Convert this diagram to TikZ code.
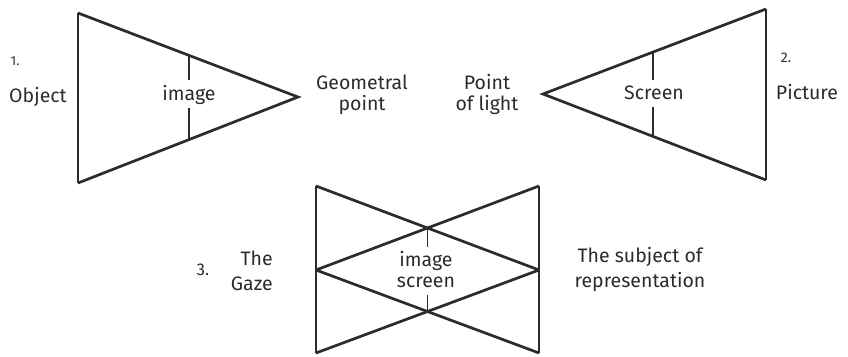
\documentclass[tikz,border=0pt]{standalone}
\usepackage{fontspec}
\setmainfont{Fira Sans}
\usetikzlibrary{positioning,calc}
\definecolor{inkgray}{HTML}{2B2B2B}

\begin{document}
\begin{tikzpicture}[x=1pt,y=-1pt,
  ray/.style={draw=inkgray, line width=2.7pt, line join=miter},
  edge/.style={draw=inkgray, line width=1.1pt},
  lbl/.style={inner sep=0pt, anchor=base, align=center, text=inkgray,
    font=\fontsize{19.5}{20.5}\selectfont},
  loose/.style={font=\fontsize{19.5}{24.5}\selectfont},
  num/.style={lbl, font=\fontsize{14}{16}\selectfont}]

  \useasboundingbox (0,0) rectangle (848,356);

  % 1. object and geometral point
  \coordinate (objTop) at (78,13);
  \coordinate (objBot) at (78,183);
  \coordinate (geoPt) at (298,97);
  \draw[edge] (objTop) -- (objBot);
  \draw[ray] (objBot) -- (geoPt) -- (objTop);
  \coordinate (imgA) at ($(objTop)!0.5045!(geoPt)$);
  \coordinate (imgB) at ($(objBot)!0.5045!(geoPt)$);
  \draw[edge] (imgA) -- (imgA |- 0,80);
  \draw[edge] (imgB) -- (imgB |- 0,108);

  \node[num, font=\fontsize{13}{15}\selectfont] (one) at (15,65) {1.};
  \node[lbl] (object) at (38,102) {Object};
  \node[lbl] (image) at (189,100) {image};
  \node[lbl] (geo) at (362,110) {Geometral\\point};

  % 2. point of light and picture
  \coordinate (picTop) at (766,9);
  \coordinate (picBot) at (766,180);
  \coordinate (lightPt) at (543,94);
  \draw[edge] (picTop) -- (picBot);
  \draw[ray] (picBot) -- (lightPt) -- (picTop);
  \coordinate (scrA) at ($(lightPt)!0.4933!(picTop)$);
  \coordinate (scrB) at ($(lightPt)!0.4933!(picBot)$);
  \draw[edge] (scrA) -- (scrA |- 0,80);
  \draw[edge] (scrB) -- (scrB |- 0,107);

  \node[lbl] (light) at (487,110) {Point\\of light};
  \node[lbl] (screen) at (654,99) {Screen};
  \node[num] (two) at (786,62) {2.};
  \node[lbl] (picture) at (807,99) {Picture};

  % 3. the gaze and the subject of representation
  \coordinate (lt) at (316,186);
  \coordinate (lm) at (316,270);
  \coordinate (lb) at (316,353);
  \coordinate (rt) at (539,186);
  \coordinate (rm) at (539,270);
  \coordinate (rb) at (539,353);
  \draw[edge] (lt) -- (lb);
  \draw[edge] (rt) -- (rb);
  \draw[ray] (lt) -- (rm);
  \draw[ray] (rt) -- (lm);
  \draw[ray] (lm) -- (rb);
  \draw[ray] (rm) -- (lb);
  \coordinate (xTop) at ($(lt)!0.5!(rm)$);
  \coordinate (xBot) at ($(lm)!0.5!(rb)$);
  \draw[edge] (xTop) -- ++(0,19);
  \draw[edge] (xBot) -- ++(0,-17);

  \node[num, font=\fontsize{17}{19}\selectfont] (three) at (203,275) {3.};
  \node[lbl, loose, anchor=base east, align=right] (gaze) at (273,290) {The\\Gaze};
  \node[lbl] (imgscr) at (426,287) {image\\screen};
  \node[lbl, loose] (subject) at (640,287) {The subject of\\representation};
\end{tikzpicture}
\end{document}
